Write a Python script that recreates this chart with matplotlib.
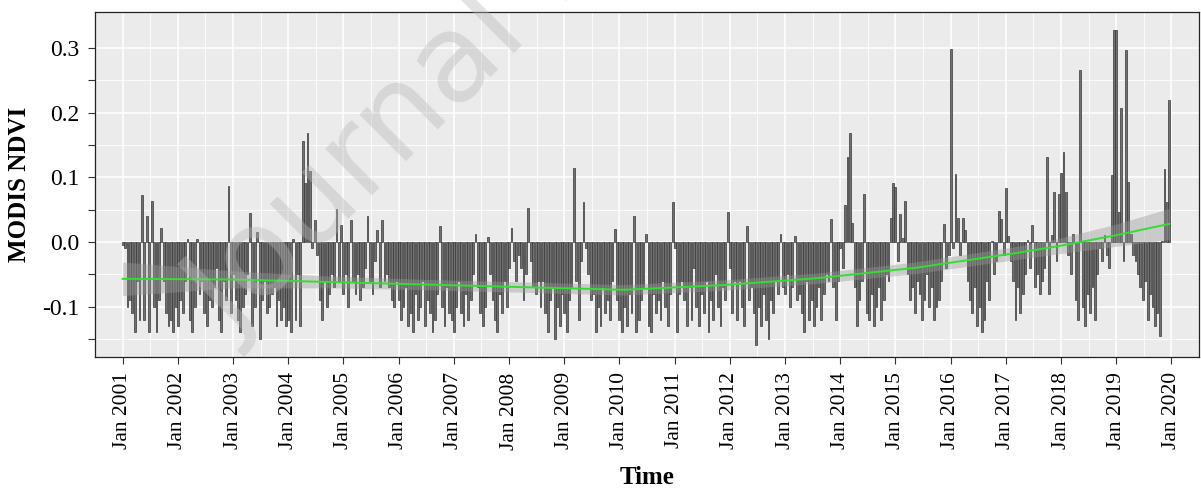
import numpy as np
import matplotlib
matplotlib.use("Agg")
import matplotlib.pyplot as plt

# MODIS NDVI anomalies, 16-day composites (23 per year, 2001-2019)
years = list(range(2001, 2020))
ndvi = {
    2001: [-0.005, -0.01, -0.10, -0.09, -0.11, -0.14, -0.06, -0.12, 0.073, -0.12, 0.04, -0.14, 0.064, -0.10, -0.14, -0.09, 0.022, -0.06, -0.11, -0.13, -0.12, -0.14, -0.10],
    2002: [-0.13, -0.09, -0.11, -0.06, 0.005, -0.12, -0.14, -0.10, 0.005, -0.08, -0.06, -0.11, -0.13, -0.09, -0.10, -0.07, -0.04, -0.12, -0.14, -0.06, -0.09, 0.087, -0.11],
    2003: [-0.05, -0.09, -0.12, -0.14, -0.10, -0.08, -0.05, 0.045, -0.13, -0.10, 0.015, -0.15, -0.09, -0.06, -0.11, -0.10, -0.08, -0.07, -0.13, -0.09, -0.12, -0.10, -0.13],
    2004: [-0.12, -0.14, 0.004, -0.12, -0.05, -0.13, 0.156, 0.092, 0.168, 0.11, -0.01, 0.034, -0.02, -0.09, -0.12, -0.06, -0.10, -0.08, -0.05, -0.07, 0.051, -0.06, 0.026],
    2005: [-0.08, -0.05, -0.10, 0.034, -0.06, -0.08, -0.05, -0.09, -0.07, -0.04, 0.04, -0.06, -0.08, -0.03, 0.019, -0.07, 0.034, -0.06, -0.05, -0.07, -0.09, -0.10, -0.06],
    2006: [-0.09, -0.12, -0.10, -0.07, -0.13, -0.11, -0.14, -0.08, -0.12, -0.10, -0.06, -0.13, -0.09, -0.11, -0.14, -0.12, -0.08, 0.024, -0.10, -0.13, -0.07, -0.11, -0.12],
    2007: [-0.14, -0.10, -0.06, -0.11, -0.13, -0.08, -0.12, -0.09, -0.05, 0.013, -0.07, -0.11, -0.13, -0.10, 0.008, -0.05, -0.09, -0.12, -0.14, -0.08, -0.11, -0.06, -0.10],
    2008: [-0.04, 0.022, -0.03, -0.06, -0.02, -0.04, -0.09, -0.05, 0.052, -0.03, -0.07, -0.08, -0.06, -0.10, -0.06, -0.11, -0.14, -0.09, -0.07, -0.15, -0.10, -0.13, -0.08],
    2009: [-0.11, -0.14, -0.09, -0.07, 0.114, -0.06, -0.12, -0.03, 0.062, -0.01, -0.05, -0.09, -0.08, -0.14, -0.10, -0.13, -0.07, -0.11, -0.09, -0.12, -0.06, 0.02, -0.09],
    2010: [-0.12, -0.14, -0.10, -0.13, -0.08, -0.11, 0.04, -0.14, -0.12, -0.09, -0.07, 0.012, -0.13, -0.14, -0.08, -0.11, -0.09, -0.12, -0.06, -0.10, -0.13, -0.08, 0.062],
    2011: [-0.01, -0.14, -0.08, -0.06, -0.09, -0.13, -0.07, -0.12, -0.04, -0.10, -0.13, -0.08, -0.11, -0.06, -0.14, -0.09, -0.12, -0.05, -0.10, -0.13, -0.07, -0.09, 0.047],
    2012: [-0.04, -0.11, -0.06, -0.12, -0.06, -0.10, -0.13, 0.024, -0.09, -0.07, -0.11, -0.16, -0.10, -0.13, -0.08, -0.12, -0.15, -0.09, -0.11, -0.06, -0.08, 0.013, -0.07],
    2013: [-0.08, -0.05, -0.10, -0.07, 0.009, -0.09, -0.08, -0.11, -0.14, -0.06, -0.12, -0.09, -0.13, -0.10, -0.07, -0.12, -0.08, -0.05, -0.06, 0.035, -0.07, -0.12, -0.06],
    2014: [-0.01, -0.04, 0.058, 0.132, 0.168, 0.03, -0.07, -0.13, -0.09, -0.06, 0.075, -0.11, -0.12, -0.08, -0.13, -0.10, -0.07, -0.12, -0.09, -0.05, -0.06, 0.037, 0.092],
    2015: [0.085, -0.03, 0.043, 0.006, 0.064, -0.05, -0.09, -0.07, -0.11, -0.06, -0.08, -0.12, -0.09, -0.05, -0.10, -0.07, -0.12, -0.10, -0.09, -0.06, 0.028, -0.04, -0.02],
    2016: [0.299, -0.01, 0.105, 0.037, -0.02, 0.037, 0.019, -0.06, -0.09, -0.11, -0.07, -0.13, -0.10, -0.14, -0.12, -0.06, -0.09, 0.002, -0.05, -0.03, 0.048, 0.035, -0.02],
    2017: [0.083, 0.009, -0.03, -0.06, -0.12, -0.07, -0.11, -0.08, -0.05, 0.003, -0.04, 0.026, -0.07, -0.05, -0.08, -0.06, -0.04, 0.132, -0.08, 0.011, 0.077, -0.03, 0.074],
    2018: [0.107, 0.14, 0.077, -0.02, -0.05, 0.013, -0.09, -0.12, 0.267, -0.10, -0.13, -0.08, -0.11, -0.07, -0.12, -0.05, -0.01, -0.03, 0.011, -0.02, -0.04, 0.104, 0.328],
    2019: [0.328, 0.047, 0.208, -0.03, 0.297, 0.093, 0.013, -0.02, -0.03, -0.05, -0.07, -0.09, -0.06, -0.12, -0.08, -0.10, -0.13, -0.11, -0.145, 0.002, 0.113, 0.062, 0.22],
}

# smooth trend (green line) and its confidence band
trend_year = [2001.0, 2003.02, 2004.78, 2006.55, 2008.31, 2010.07, 2011.83, 2013.59, 2015.36, 2017.12, 2017.98, 2018.97, 2019.96]
trend_val = [-0.057, -0.058, -0.062, -0.066, -0.070, -0.074, -0.067, -0.056, -0.040, -0.018, -0.006, 0.010, 0.028]
band_half = [0.026, 0.013, 0.009, 0.008, 0.008, 0.008, 0.008, 0.008, 0.009, 0.010, 0.012, 0.017, 0.024]

pos = []
vals = []
for yr in years:
    for i, v in enumerate(ndvi[yr]):
        pos.append(yr + 16 * i / 365.25)
        vals.append(v)

plt.rcParams['font.family'] = ['Liberation Serif', 'DejaVu Serif']

W, H = 1201, 500
fig = plt.figure(figsize=(W / 100, H / 100), dpi=100)
ax = fig.add_axes([95 / W, 1 - 357 / H, (1199 - 95) / W, (357 - 12) / H])
ax.set_facecolor('#EBEBEB')

ax.bar(pos, vals, width=12 / 365.25, color='#707070', edgecolor='#383838', linewidth=0.5, zorder=2)

t = np.array(trend_val)
h = np.array(band_half)
ax.fill_between(trend_year, t - h, t + h, color='#999999', alpha=0.4, linewidth=0, zorder=3)
ax.plot(trend_year, trend_val, color='#33dd33', linewidth=1.4, zorder=4)

px_per_year = 55.6
ax.set_xlim(2001 - (120.7 - 95) / px_per_year, 2001 + (1199 - 120.7) / px_per_year)
ax.set_ylim(-0.178, 0.356)

xt = list(range(2001, 2021))
ax.set_xticks(xt)
ax.set_xticklabels(['Jan %d' % y for y in xt], rotation=90, fontsize=15.5)
ax.set_xticks([y + 0.5 for y in range(2000, 2021)], minor=True)
yt = [-0.1, 0.0, 0.1, 0.2, 0.3]
ax.set_yticks(yt)
ax.set_yticklabels(['-0.1', '0.0', '0.1', '0.2', '0.3'], fontsize=17)
ax.set_yticks([-0.15, -0.05, 0.05, 0.15, 0.25], minor=True)
ax.tick_params(which='both', direction='out', length=5, color='#333333', width=0.8,
               labelcolor='black', pad=6)
ax.tick_params(axis='x', which='minor', length=0)
ax.grid(which='major', color='white', linewidth=1.1, zorder=0)
ax.grid(which='minor', color='white', linewidth=0.6, zorder=0)
ax.set_axisbelow(True)
for s in ax.spines.values():
    s.set_color('#222222')
    s.set_linewidth(0.9)

ax.set_ylabel('MODIS NDVI', fontsize=18, fontweight='bold', labelpad=8)
ax.set_xlabel('Time', fontsize=18, fontweight='bold', labelpad=12)

# watermark of the source page
fig.text(234 / W, 1 - 340 / H, 'Journal Pre-proof', fontsize=88, family='DejaVu Sans',
         rotation=45, rotation_mode='anchor', ha='left', va='baseline',
         color='#b8b8b8', alpha=0.4, zorder=10)

fig.savefig('out.png', dpi=100)
